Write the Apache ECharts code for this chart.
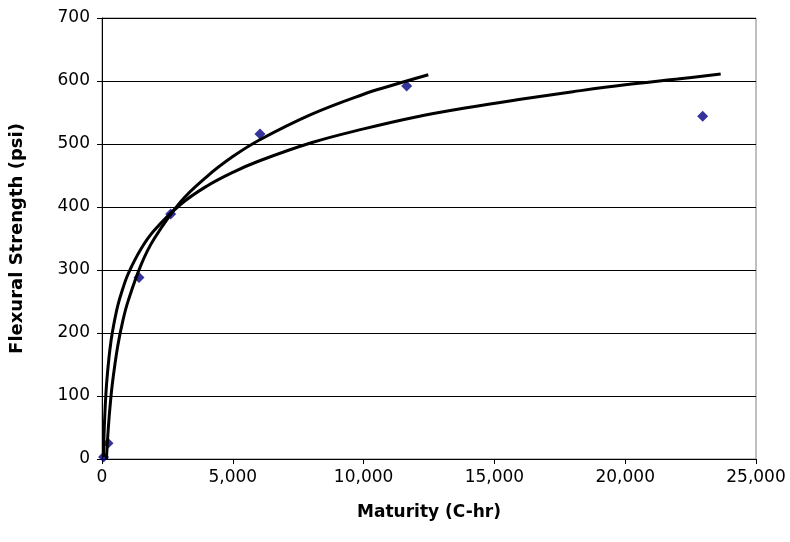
<!DOCTYPE html>
<html>
<head>
<meta charset="utf-8">
<script src="https://cdn.jsdelivr.net/npm/echarts@6/dist/echarts.min.js"></script>
<style>html,body{margin:0;padding:0;background:#fff}#c{width:790px;height:542px}</style>
</head>
<body>
<div id="c"></div>
<script>
// Measured data points (Maturity C-hr, Flexural Strength psi)
var pointX = [60, 230, 1414, 2626, 6040, 11648, 22963];
var pointY = [3, 25, 288, 389, 516, 592, 544];

// Trend curve A (longer)
var curveAX = [55, 70, 100, 150, 200, 300, 400, 600, 800, 1000, 1500, 2000, 3000, 4000, 5000, 6000, 8000, 10000, 12000, 14000, 16000, 18000, 20000, 22000, 23650];
var curveAY = [3, 27, 63, 104, 132, 173, 202, 243, 271, 294, 334, 363, 404, 433, 455, 473, 502, 524, 543, 558, 571, 583, 594, 603, 611];

// Trend curve B (shorter)
var curveBX = [170, 200, 250, 300, 400, 600, 800, 1000, 1500, 2000, 3000, 4000, 5000, 6000, 8000, 10000, 11000, 12473];
var curveBY = [0, 23, 54, 80, 121, 179, 220, 251, 309, 350, 408, 448, 480, 506, 547, 579, 592, 610];

var xTicks = [0, 5000, 10000, 15000, 20000, 25000];
var yTicks = [0, 100, 200, 300, 400, 500, 600, 700];

function zip(a, b) { return a.map(function (v, i) { return [v, b[i]]; }); }

var chart = echarts.init(document.getElementById('c'), null, {renderer: 'canvas'});
var font = 'DejaVu Sans, sans-serif';
chart.setOption({
  animation: false,
  backgroundColor: '#fff',
  grid: {left: 102, right: 34, top: 18, bottom: 83, show: true, borderColor: '#808080', borderWidth: 1, backgroundColor: 'transparent'},
  xAxis: {
    type: 'value', min: xTicks[0], max: xTicks[xTicks.length - 1], interval: 5000,
    name: 'Maturity (C-hr)', nameLocation: 'middle', nameGap: 45,
    nameTextStyle: {fontFamily: font, fontWeight: 'bold', fontSize: 17, color: '#000'},
    axisLine: {show: true, lineStyle: {color: '#000', width: 1}},
    axisTick: {show: true, length: 5, lineStyle: {color: '#000'}},
    axisLabel: {fontFamily: font, fontSize: 17, color: '#000', margin: 10,
      formatter: function (v) { return v.toLocaleString('en-US'); }},
    splitLine: {show: false}
  },
  yAxis: {
    type: 'value', min: yTicks[0], max: yTicks[yTicks.length - 1], interval: 100,
    name: 'Flexural Strength (psi)', nameLocation: 'middle', nameGap: 76,
    nameTextStyle: {fontFamily: font, fontWeight: 'bold', fontSize: 18, color: '#000'},
    axisLine: {show: true, lineStyle: {color: '#000', width: 1}},
    axisTick: {show: true, length: 5, lineStyle: {color: '#000'}},
    axisLabel: {fontFamily: font, fontSize: 17, color: '#000', margin: 12},
    splitLine: {show: true, lineStyle: {color: '#000', width: 1}}
  },
  series: [
    {type: 'scatter', data: zip(pointX, pointY), symbol: 'diamond', symbolSize: 11,
      itemStyle: {color: '#000080'}, z: 1},
    {type: 'line', data: zip(curveAX, curveAY), smooth: 0.4, showSymbol: false,
      lineStyle: {color: '#000', width: 3}, z: 3},
    {type: 'line', data: zip(curveBX, curveBY), smooth: 0.4, showSymbol: false,
      lineStyle: {color: '#000', width: 3}, z: 3}
  ]
});
</script>
</body>
</html>
